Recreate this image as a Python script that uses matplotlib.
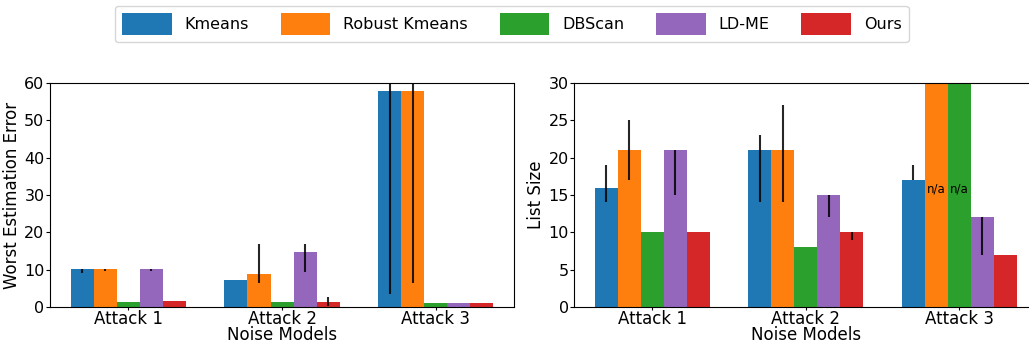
import numpy as np
import matplotlib
matplotlib.use("Agg")
import matplotlib.pyplot as plt

attacks = ["Attack 1", "Attack 2", "Attack 3"]
methods = ["Kmeans", "Robust Kmeans", "DBScan", "LD-ME", "Ours"]
colors = ["#1f77b4", "#ff7f0e", "#2ca02c", "#9467bd", "#d62728"]

# worst estimation error (mean, lower end, upper end of the error bar)
err_mean = {
    "Kmeans":        [10.1, 7.2, 57.8],
    "Robust Kmeans": [10.1, 8.8, 57.8],
    "DBScan":        [1.25, 1.25, 1.0],
    "LD-ME":         [10.1, 14.6, 1.0],
    "Ours":          [1.5, 1.25, 1.0],
}
err_low = {
    "Kmeans":        [9.2, 7.2, 3.6],
    "Robust Kmeans": [9.7, 6.3, 6.3],
    "DBScan":        [1.25, 1.25, 1.0],
    "LD-ME":         [9.6, 9.4, 1.0],
    "Ours":          [1.5, 0.3, 1.0],
}
err_high = {
    "Kmeans":        [10.1, 7.2, 65.0],
    "Robust Kmeans": [10.3, 17.0, 65.0],
    "DBScan":        [1.25, 1.25, 1.0],
    "LD-ME":         [10.3, 17.0, 1.0],
    "Ours":          [1.5, 2.7, 1.0],
}

# list size (None = method gives no result)
size_mean = {
    "Kmeans":        [16, 21, 17],
    "Robust Kmeans": [21, 21, None],
    "DBScan":        [10, 8, None],
    "LD-ME":         [21, 15, 12],
    "Ours":          [10, 10, 7],
}
size_low = {
    "Kmeans":        [14, 14, 17],
    "Robust Kmeans": [17, 14, None],
    "DBScan":        [10, 8, None],
    "LD-ME":         [15, 12, 7],
    "Ours":          [10, 9, 7],
}
size_high = {
    "Kmeans":        [19, 23, 19],
    "Robust Kmeans": [25, 27, None],
    "DBScan":        [10, 8, None],
    "LD-ME":         [21, 15, 12],
    "Ours":          [10, 10, 7],
}

ERR_YMAX = 60
SIZE_YMAX = 30


def draw_panel(ax, mean, low, high, ymax, ylabel):
    x = np.arange(len(attacks))
    width = 0.15
    for i, (m, c) in enumerate(zip(methods, colors)):
        pos = x + (i - 2) * width
        vals, lo, hi, na = [], [], [], []
        for v, l, h in zip(mean[m], low[m], high[m]):
            if v is None:
                # missing result: draw a full-height bar labelled n/a
                vals.append(ymax)
                lo.append(0)
                hi.append(0)
                na.append(True)
            else:
                vals.append(v)
                lo.append(v - l)
                hi.append(h - v)
                na.append(False)
        ax.bar(pos, vals, width, color=c, label=m,
               yerr=[lo, hi], error_kw=dict(ecolor="black", elinewidth=1.5, capsize=0, alpha=0.85))
        for p, flag in zip(pos, na):
            if flag:
                ax.text(p, ymax * 0.527, "n/a", ha="center", va="center", fontsize=8.5)
    ax.set_xticks(x)
    ax.set_xticklabels(attacks, fontsize=12)
    ax.tick_params(axis="x", length=2, pad=0)
    ax.tick_params(axis="y", labelsize=11.5, length=3, pad=1)
    ax.set_xlim(-0.51, 2.51)
    ax.set_ylim(0, ymax)
    ax.set_xlabel("Noise Models", fontsize=12, labelpad=-1)
    ax.set_ylabel(ylabel, fontsize=12, labelpad=2)


fig = plt.figure(figsize=(10.29, 3.43), dpi=100)
ax1 = fig.add_axes([0.0486, 0.105, 0.451, 0.653])
ax2 = fig.add_axes([0.558, 0.105, 0.45, 0.653])

draw_panel(ax1, err_mean, err_low, err_high, ERR_YMAX, "Worst Estimation Error")
draw_panel(ax2, size_mean, size_low, size_high, SIZE_YMAX, "List Size")
ax1.set_yticks(np.arange(0, 61, 10))
ax2.set_yticks(np.arange(0, 31, 5))

handles, labels = ax1.get_legend_handles_labels()
fig.legend(handles, labels, loc="center", bbox_to_anchor=(0.4975, 0.93), ncol=5,
           fontsize=11.5, handlelength=3.1, handleheight=1.7, handletextpad=0.8,
           columnspacing=2.0, borderpad=0.45)

fig.savefig("out.png", dpi=100)
